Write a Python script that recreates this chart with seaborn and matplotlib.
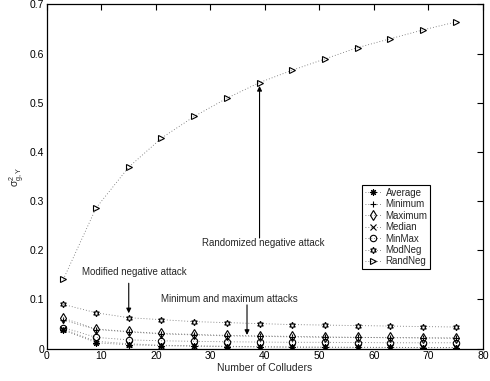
import numpy as np
import pandas as pd
import matplotlib
matplotlib.use("Agg")
import matplotlib.pyplot as plt
import seaborn as sns

# Number of colluders on the x axis
colluders = [3, 9, 15, 21, 27, 33, 39, 45, 51, 57, 63, 69, 75]

# Variance of the detection statistic for each collusion attack
average = [0.038, 0.012, 0.008, 0.006, 0.005, 0.004, 0.0035, 0.003, 0.003, 0.0025, 0.0025, 0.002, 0.002]
minimum = [0.058, 0.039, 0.034, 0.030, 0.028, 0.026, 0.025, 0.024, 0.023, 0.023, 0.022, 0.022, 0.021]
maximum = [0.062, 0.040, 0.035, 0.031, 0.029, 0.027, 0.026, 0.025, 0.024, 0.023, 0.023, 0.022, 0.022]
median = [0.040, 0.015, 0.010, 0.007, 0.006, 0.005, 0.004, 0.0035, 0.003, 0.003, 0.0028, 0.0025, 0.0025]
minmax = [0.043, 0.023, 0.018, 0.016, 0.015, 0.014, 0.0135, 0.013, 0.013, 0.0125, 0.012, 0.012, 0.012]
modneg = [0.090, 0.073, 0.063, 0.059, 0.055, 0.053, 0.051, 0.049, 0.048, 0.047, 0.046, 0.045, 0.044]
randneg = [0.141, 0.286, 0.369, 0.428, 0.472, 0.509, 0.541, 0.566, 0.589, 0.612, 0.630, 0.648, 0.664]

series_names = ["Average", "Minimum", "Maximum", "Median", "MinMax", "ModNeg", "RandNeg"]
series_values = [average, minimum, maximum, median, minmax, modneg, randneg]

x_ticks = [0, 10, 20, 30, 40, 50, 60, 70, 80]
y_ticks = [0, 0.1, 0.2, 0.3, 0.4, 0.5, 0.6, 0.7]
y_ticklabels = ["0", "0.1", "0.2", "0.3", "0.4", "0.5", "0.6", "0.7"]

sns.set_style("white")
plt.rcParams["font.family"] = ["Liberation Sans", "DejaVu Sans"]
plt.rcParams["mathtext.fontset"] = "custom"
plt.rcParams["mathtext.rm"] = "Liberation Sans"
plt.rcParams["mathtext.it"] = "Liberation Sans"

fig = plt.figure(figsize=(4.9, 3.81), dpi=100)
ax = fig.add_axes([0.0959, 0.0848, 0.8898, 0.9039])

marker_map = {
    "Average": (8, 2, 0),
    "Minimum": "+",
    "Maximum": "d",
    "Median": "x",
    "MinMax": "o",
    "ModNeg": (6, 1, 0),
    "RandNeg": ">",
}

handles = []
for name, vals in zip(series_names, series_values):
    d = pd.DataFrame({"colluders": colluders, "variance": vals})
    sns.lineplot(
        data=d, x="colluders", y="variance", ax=ax, color="0.4",
        linestyle=(0, (1, 2.5)), linewidth=0.6,
        marker=marker_map[name], markersize=4.6, markerfacecolor="none",
        markeredgecolor="black", markeredgewidth=0.8, legend=False,
    )
    handles.append(ax.get_lines()[-1])

ax.set_xlim(0, 80)
ax.set_ylim(0, 0.7)
ax.set_xticks(x_ticks)
ax.set_xticklabels([str(t) for t in x_ticks])
ax.set_yticks(y_ticks)
ax.set_yticklabels(y_ticklabels)
ax.tick_params(direction="in", length=4, width=0.8, labelsize=7.5,
               top=True, right=True, pad=2, colors="black")
for spine in ax.spines.values():
    spine.set_visible(True)
    spine.set_color("black")
    spine.set_linewidth(0.9)

ax.set_xlabel("Number of Colluders", fontsize=7.5, labelpad=1)
ax.set_ylabel(r"$\sigma^2_{g,Y}$", fontsize=7.5, labelpad=2)

leg = ax.legend(handles, series_names, loc="upper left",
                bbox_to_anchor=(0.723, 0.476), fontsize=7, frameon=True,
                fancybox=False, edgecolor="black", framealpha=1,
                handlelength=1.6, handletextpad=0.5, labelspacing=0.15,
                borderpad=0.3, borderaxespad=0)
leg.get_frame().set_linewidth(0.8)

arrow = dict(arrowstyle="-|>", color="black", lw=0.8, mutation_scale=7, shrinkA=0, shrinkB=0)
ax.annotate("", xy=(39, 0.534), xytext=(39, 0.225), arrowprops=arrow)
ax.text(39.6, 0.214, "Randomized negative attack", fontsize=7, ha="center", va="center")
ax.annotate("", xy=(15, 0.072), xytext=(15, 0.133), arrowprops=arrow)
ax.text(16.0, 0.156, "Modified negative attack", fontsize=7, ha="center", va="center")
ax.annotate("", xy=(36.7, 0.028), xytext=(36.7, 0.089), arrowprops=arrow)
ax.text(33.5, 0.1016, "Minimum and maximum attacks", fontsize=7, ha="center", va="center")

fig.savefig("out.png", dpi=100)
